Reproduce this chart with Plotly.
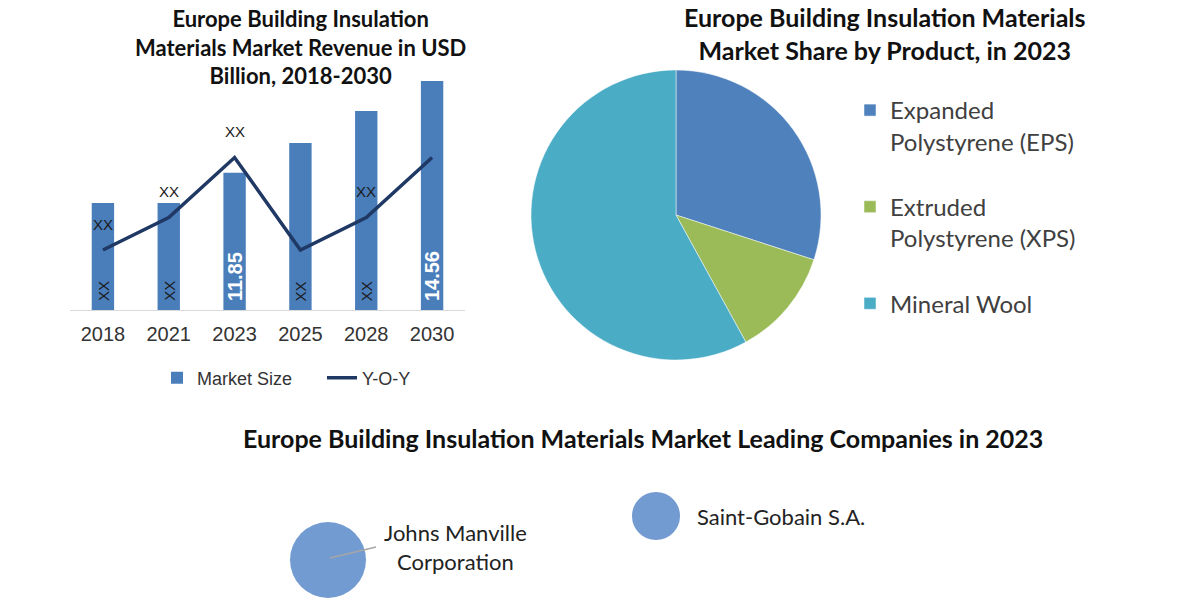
import plotly.graph_objects as go

# ---------------- data ----------------
years = ["2018", "2021", "2023", "2025", "2028", "2030"]
market_size = [10.96, 10.96, 11.85, 12.73, 13.67, 14.56]
bar_labels = ["XX", "XX", "11.85", "XX", "XX", "14.56"]
yoy = [2.4, 3.7, 6.1, 2.4, 3.7, 6.1]
yoy_labels = ["XX", "XX", "XX", "", "XX", ""]

products = ["Expanded<br>Polystyrene (EPS)", "Extruded<br>Polystyrene (XPS)", "Mineral Wool"]
product_share = [30, 12, 58]

companies = ["Johns Manville<br>Corporation", "Saint-Gobain S.A."]
company_x = [3.28, 6.56]
company_y = [0.40, 0.84]
company_size = [2.5, 1.0]

# ---------------- style ----------------
BAR_COLOR = "#4a7ebb"
LINE_COLOR = "#1f3864"
PIE_COLORS = ["#4f81bd", "#9bbb59", "#4bacc6"]
BUBBLE_COLOR = "#729bd2"
TITLE_FONT = "Lato"
ARIAL = "Liberation Sans"
Y_MIN = 7.81
Y_MAX = 15.175

fig = go.Figure()

fig.add_trace(go.Bar(
    x=years, y=market_size, name="Market Size",
    marker=dict(color=BAR_COLOR, line=dict(width=0)),
    width=0.34, xaxis="x", yaxis="y", legend="legend",
    hoverinfo="x+y",
))
fig.add_trace(go.Scatter(
    x=years, y=yoy, name="Y-O-Y", mode="lines",
    line=dict(color=LINE_COLOR, width=3.5),
    xaxis="x", yaxis="y2", legend="legend",
))

# legend labels get a trailing blank line so the items are spaced like the reference
pie_legend_labels = [p + "<br> " if i < len(products) - 1 else p for i, p in enumerate(products)]
fig.add_trace(go.Pie(
    labels=pie_legend_labels, values=product_share, sort=False, direction="clockwise",
    rotation=0, marker=dict(colors=PIE_COLORS, line=dict(color="white", width=0.5)),
    textinfo="none", hoverinfo="label+percent",
    domain=dict(x=[531/1200, 821/1200], y=[1-360/600, 1-70/600]),
    legend="legend2",
))

fig.add_trace(go.Scatter(
    x=company_x, y=company_y, mode="markers",
    marker=dict(size=company_size, sizemode="area", sizeref=2 * 2.5 / 76**2,
                color=BUBBLE_COLOR, opacity=1, line=dict(width=0)),
    text=companies, hoverinfo="text", showlegend=False,
    xaxis="x3", yaxis="y3",
))

annotations = []
# in-bar labels (category axis -> use index positions)
for i, lab in enumerate(bar_labels):
    is_num = lab != "XX"
    annotations.append(dict(
        x=i, y=Y_MIN, xref="x", yref="y", textangle=-90,
        text=f"<b>{lab}</b>" if is_num else lab,
        showarrow=False, xanchor="center", yanchor="bottom", yshift=7,
        font=dict(family=ARIAL, size=20 if is_num else 15,
                  color="white" if is_num else "#1a1a1a"),
    ))
# line labels
for i, (v, lab) in enumerate(zip(yoy, yoy_labels)):
    if lab:
        annotations.append(dict(
            x=i, y=v, xref="x", yref="y2", text=lab, showarrow=False,
            xanchor="center", yshift=26,
            font=dict(family=ARIAL, size=15, color="#1a1a1a"),
        ))
# bubble labels
annotations.append(dict(
    x=company_x[0], y=company_y[0], xref="x3", yref="y3", text=companies[0],
    showarrow=False, xanchor="center", xshift=127, yshift=13,
    font=dict(family=TITLE_FONT, size=22, color="#222222"),
))
annotations.append(dict(
    x=company_x[1], y=company_y[1], xref="x3", yref="y3", text=companies[1],
    showarrow=False, xanchor="left", xshift=39,
    font=dict(family=TITLE_FONT, size=22, color="#222222"),
))
# titles
annotations += [
    dict(x=300/1200, y=1-3/600, xref="paper", yref="paper", xanchor="center", yanchor="top",
         text="<b>Europe Building Insulation<br>Materials Market Revenue in USD<br>Billion, 2018-2030</b>",
         showarrow=False, font=dict(family=TITLE_FONT, size=22, color="#111111")),
    dict(x=885/1200, y=1-0/600, xref="paper", yref="paper", xanchor="center", yanchor="top",
         text="<b>Europe Building Insulation Materials<br>Market Share by Product, in 2023</b>",
         showarrow=False, font=dict(family=TITLE_FONT, size=25, color="#111111")),
    dict(x=643/1200, y=1-438/600, xref="paper", yref="paper", xanchor="center", yanchor="middle",
         text="<b>Europe Building Insulation Materials Market Leading Companies in 2023</b>",
         showarrow=False, font=dict(family=TITLE_FONT, size=25, color="#111111")),
]

shapes = [dict(
    type="line", xref="x3", yref="y3",
    x0=company_x[0] + 0.02, y0=company_y[0] + 0.02,
    x1=company_x[0] + 0.48, y1=company_y[0] + 0.13,
    line=dict(color="#a6a6a6", width=1.5),
)]

fig.update_layout(
    width=1200, height=600,
    margin=dict(l=0, r=0, t=0, b=0, autoexpand=False),
    paper_bgcolor="white", plot_bgcolor="white",
    xaxis=dict(domain=[70/1200, 465/1200], type="category", range=[-0.5, 5.5],
               showline=True, linecolor="#d9d9d9", linewidth=1,
               showgrid=False, ticks="", ticklabelstandoff=6, automargin=False,
               tickfont=dict(family=ARIAL, size=20, color="#333333"),
               anchor="y"),
    yaxis=dict(domain=[1-310/600, 0.9], range=[Y_MIN, Y_MAX], visible=False,
               showgrid=False, zeroline=False, automargin=False),
    yaxis2=dict(overlaying="y", range=[0, 10], visible=False, showgrid=False),
    xaxis3=dict(domain=[0, 1], range=[0, 12], visible=False, anchor="y3"),
    yaxis3=dict(domain=[0, 0.2], range=[0, 1.2], visible=False, anchor="x3"),
    legend=dict(orientation="h", x=157/1200, y=1-378/600, yanchor="middle",
                xanchor="left", font=dict(family=ARIAL, size=18, color="#333333"),
                entrywidth=120, entrywidthmode="pixels",
                bgcolor="rgba(0,0,0,0)"),
    legend2=dict(x=850/1200, y=1-88/600, xanchor="left", yanchor="top",
                 valign="top", font=dict(family=TITLE_FONT, size=24, color="#404040"),
                 bgcolor="rgba(0,0,0,0)"),
    annotations=annotations,
    shapes=shapes,
    showlegend=True,
)

fig.write_html("out.html", config={"displayModeBar": False},
               post_script="document.body.style.margin='0';")
